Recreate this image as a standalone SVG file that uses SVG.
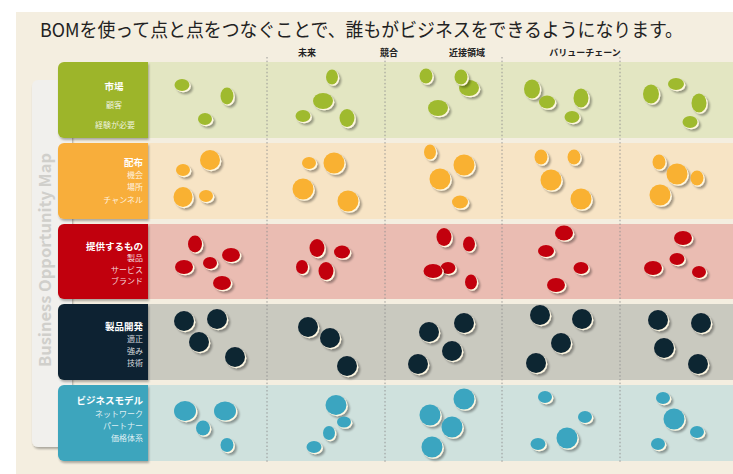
<svg xmlns="http://www.w3.org/2000/svg" width="733" height="474" viewBox="0 0 733 474">
<defs>
<filter id="sh" x="-50%" y="-50%" width="200%" height="200%">
<feGaussianBlur in="SourceAlpha" stdDeviation="1.1"/>
<feOffset dx="1.5" dy="1.8" result="b"/>
<feComponentTransfer><feFuncA type="linear" slope="0.35"/></feComponentTransfer>
<feMerge><feMergeNode/><feMergeNode in="SourceGraphic"/></feMerge>
</filter>
<filter id="bs" x="-20%" y="-20%" width="140%" height="140%">
<feGaussianBlur in="SourceAlpha" stdDeviation="1.2"/>
<feOffset dx="0.5" dy="1.5"/>
<feComponentTransfer><feFuncA type="linear" slope="0.3"/></feComponentTransfer>
<feMerge><feMergeNode/><feMergeNode in="SourceGraphic"/></feMerge>
</filter>
</defs>
<style>
text{font-family:"Noto Sans CJK JP","Liberation Sans",sans-serif}
.ttl{font-size:19px;fill:#222}
.hd{font-size:9px;font-weight:bold;fill:#222;text-anchor:middle}
.lb{font-size:9.5px;font-weight:bold;fill:#fff;text-anchor:end}
.sm{font-size:8px;fill:#fff;fill-opacity:0.85;text-anchor:end}
.dash{stroke:#8f8f8f;stroke-width:0.9;stroke-dasharray:1.5 2.2;fill:none}
.d{filter:url(#sh)}
.rim{fill:#fff8e2}
.g{fill:#9fba2e}
.o{fill:#f9b130}
.r{fill:#c2000b}
.k{fill:#0f2532}
.t{fill:#3aa5c0}
</style>
<rect x="0" y="0" width="733" height="474" fill="#ffffff"/>
<rect x="16" y="12" width="717" height="462" fill="#f4eee0"/>
<text class="ttl" x="40" y="37" textLength="643" lengthAdjust="spacingAndGlyphs">BOMを使って点と点をつなぐことで、誰もがビジネスをできるようになります。</text>
<g id="headers">
<text class="hd" x="307" y="56">未来</text>
<text class="hd" x="389" y="56">競合</text>
<text class="hd" x="467" y="56">近接領域</text>
<text class="hd" x="585" y="56">バリューチェーン</text>
</g>
<g id="panel">
<rect x="32" y="80" width="40" height="367" rx="6" fill="#f1f0ed" filter="url(#bs)"/>
<text x="0" y="0" transform="translate(51,260) rotate(-90)" text-anchor="middle" font-family="Open Sans, Liberation Sans, sans-serif" font-weight="600" font-size="16" fill="#d0cfcb" textLength="214" lengthAdjust="spacingAndGlyphs">Business Opportunity Map</text>
</g>
<g id="bands">
<rect x="147" y="62" width="586" height="76" fill="#e3e6c2"/>
<rect x="147" y="143" width="586" height="76" fill="#f7e4c5"/>
<rect x="147" y="224" width="586" height="75" fill="#eabcb2"/>
<rect x="147" y="304" width="586" height="76" fill="#c9c9bf"/>
<rect x="147" y="385" width="586" height="76" fill="#cfe1dd"/>
</g>
<g id="connectors">
<line class="dash" x1="267" y1="57" x2="267" y2="462"/>
<line class="dash" x1="385" y1="57" x2="385" y2="462"/>
<line class="dash" x1="502" y1="57" x2="502" y2="462"/>
<line class="dash" x1="620" y1="57" x2="620" y2="462"/>
</g>
<g id="row-market">
<path d="M64,62H148V138H64A6,6 0 0 1 58,132V68A6,6 0 0 1 64,62Z" fill="#9db52b" filter="url(#bs)"/>
<text class="lb" x="114" y="90" style="text-anchor:middle">市場</text>
<text class="sm" x="114" y="108" style="text-anchor:middle">顧客</text>
<text class="sm" x="115" y="128" style="text-anchor:middle">経験が必要</text>
</g>
<g id="row-distribution">
<path d="M64,143H148V219H64A6,6 0 0 1 58,213V149A6,6 0 0 1 64,143Z" fill="#f8ae3b" filter="url(#bs)"/>
<text class="lb" x="143" y="166">配布</text>
<text class="sm" x="143" y="178">機会</text>
<text class="sm" x="143" y="190">場所</text>
<text class="sm" x="143" y="203">チャンネル</text>
</g>
<g id="row-offering">
<path d="M64,224H148V299H64A6,6 0 0 1 58,293V230A6,6 0 0 1 64,224Z" fill="#c1000b" filter="url(#bs)"/>
<text class="lb" x="143" y="250">提供するもの</text>
<text class="sm" x="143" y="261">製品</text>
<text class="sm" x="143" y="272.5">サービス</text>
<text class="sm" x="143" y="283.5">ブランド</text>
</g>
<g id="row-development">
<path d="M64,304H148V380H64A6,6 0 0 1 58,374V310A6,6 0 0 1 64,304Z" fill="#0e2430" filter="url(#bs)"/>
<text class="lb" x="143" y="330">製品開発</text>
<text class="sm" x="143" y="342">適正</text>
<text class="sm" x="143" y="354">強み</text>
<text class="sm" x="143" y="366">技術</text>
</g>
<g id="row-model">
<path d="M64,385H148V461H64A6,6 0 0 1 58,455V391A6,6 0 0 1 64,385Z" fill="#3ca5bd" filter="url(#bs)"/>
<text class="lb" x="143" y="404">ビジネスモデル</text>
<text class="sm" x="143" y="416.5">ネットワーク</text>
<text class="sm" x="143" y="429">パートナー</text>
<text class="sm" x="143" y="441">価格体系</text>
</g>
<g id="dots-market">
<g class="d"><ellipse class="rim" cx="183.3" cy="86.3" rx="7.5" ry="6"/><ellipse class="g" cx="182" cy="85" rx="7.5" ry="6"/></g>
<g class="d"><ellipse class="rim" cx="228.3" cy="97.3" rx="6.5" ry="8.5"/><ellipse class="g" cx="227" cy="96" rx="6.5" ry="8.5"/></g>
<g class="d"><ellipse class="rim" cx="206.3" cy="120.3" rx="7" ry="6"/><ellipse class="g" cx="205" cy="119" rx="7" ry="6"/></g>
<g class="d"><ellipse class="rim" cx="333.3" cy="78.3" rx="6" ry="7.5"/><ellipse class="g" cx="332" cy="77" rx="6" ry="7.5"/></g>
<g class="d"><ellipse class="rim" cx="324.3" cy="102.3" rx="10" ry="8"/><ellipse class="g" cx="323" cy="101" rx="10" ry="8"/></g>
<g class="d"><ellipse class="rim" cx="304.3" cy="117.3" rx="7.5" ry="6"/><ellipse class="g" cx="303" cy="116" rx="7.5" ry="6"/></g>
<g class="d"><ellipse class="rim" cx="348.3" cy="119.3" rx="7.5" ry="9"/><ellipse class="g" cx="347" cy="118" rx="7.5" ry="9"/></g>
<g class="d"><ellipse class="rim" cx="427.3" cy="77.3" rx="6.5" ry="7.5"/><ellipse class="g" cx="426" cy="76" rx="6.5" ry="7.5"/></g>
<g class="d"><ellipse class="rim" cx="470.3" cy="89.3" rx="10" ry="8"/><ellipse class="g" cx="469" cy="88" rx="10" ry="8"/></g>
<g class="d"><ellipse class="rim" cx="462.3" cy="78.3" rx="6.5" ry="7.5"/><ellipse class="g" cx="461" cy="77" rx="6.5" ry="7.5"/></g>
<g class="d"><ellipse class="rim" cx="439.3" cy="109.3" rx="10" ry="8"/><ellipse class="g" cx="438" cy="108" rx="10" ry="8"/></g>
<g class="d"><ellipse class="rim" cx="533.3" cy="90.3" rx="8" ry="9.5"/><ellipse class="g" cx="532" cy="89" rx="8" ry="9.5"/></g>
<g class="d"><ellipse class="rim" cx="548.3" cy="103.3" rx="8" ry="6.5"/><ellipse class="g" cx="547" cy="102" rx="8" ry="6.5"/></g>
<g class="d"><ellipse class="rim" cx="582.3" cy="99.3" rx="7.5" ry="9.5"/><ellipse class="g" cx="581" cy="98" rx="7.5" ry="9.5"/></g>
<g class="d"><ellipse class="rim" cx="573.3" cy="118.3" rx="7.5" ry="6"/><ellipse class="g" cx="572" cy="117" rx="7.5" ry="6"/></g>
<g class="d"><ellipse class="rim" cx="652.3" cy="95.3" rx="8" ry="9.5"/><ellipse class="g" cx="651" cy="94" rx="8" ry="9.5"/></g>
<g class="d"><ellipse class="rim" cx="677.3" cy="85.3" rx="8" ry="6"/><ellipse class="g" cx="676" cy="84" rx="8" ry="6"/></g>
<g class="d"><ellipse class="rim" cx="700.3" cy="104.3" rx="7.5" ry="9.5"/><ellipse class="g" cx="699" cy="103" rx="7.5" ry="9.5"/></g>
<g class="d"><ellipse class="rim" cx="691.3" cy="123.3" rx="7.5" ry="6"/><ellipse class="g" cx="690" cy="122" rx="7.5" ry="6"/></g>
</g>
<g id="dots-distribution">
<g class="d"><ellipse class="rim" cx="184.3" cy="171.3" rx="7" ry="6"/><ellipse class="o" cx="183" cy="170" rx="7" ry="6"/></g>
<g class="d"><ellipse class="rim" cx="211.3" cy="161.3" rx="10" ry="10"/><ellipse class="o" cx="210" cy="160" rx="10" ry="10"/></g>
<g class="d"><ellipse class="rim" cx="184.3" cy="198.3" rx="9.5" ry="10"/><ellipse class="o" cx="183" cy="197" rx="9.5" ry="10"/></g>
<g class="d"><ellipse class="rim" cx="207.3" cy="197.3" rx="7" ry="6"/><ellipse class="o" cx="206" cy="196" rx="7" ry="6"/></g>
<g class="d"><ellipse class="rim" cx="310.3" cy="164.3" rx="7" ry="6"/><ellipse class="o" cx="309" cy="163" rx="7" ry="6"/></g>
<g class="d"><ellipse class="rim" cx="335.3" cy="164.3" rx="10.5" ry="10.5"/><ellipse class="o" cx="334" cy="163" rx="10.5" ry="10.5"/></g>
<g class="d"><ellipse class="rim" cx="304.3" cy="190.3" rx="10.5" ry="10.5"/><ellipse class="o" cx="303" cy="189" rx="10.5" ry="10.5"/></g>
<g class="d"><ellipse class="rim" cx="349.3" cy="202.3" rx="10.5" ry="10.5"/><ellipse class="o" cx="348" cy="201" rx="10.5" ry="10.5"/></g>
<g class="d"><ellipse class="rim" cx="431.3" cy="153.3" rx="6" ry="7.5"/><ellipse class="o" cx="430" cy="152" rx="6" ry="7.5"/></g>
<g class="d"><ellipse class="rim" cx="465.3" cy="166.3" rx="10.5" ry="10.5"/><ellipse class="o" cx="464" cy="165" rx="10.5" ry="10.5"/></g>
<g class="d"><ellipse class="rim" cx="441.3" cy="180.3" rx="10.5" ry="10.5"/><ellipse class="o" cx="440" cy="179" rx="10.5" ry="10.5"/></g>
<g class="d"><ellipse class="rim" cx="461.3" cy="203.3" rx="8" ry="6.5"/><ellipse class="o" cx="460" cy="202" rx="8" ry="6.5"/></g>
<g class="d"><ellipse class="rim" cx="542.3" cy="158.3" rx="6.5" ry="7.5"/><ellipse class="o" cx="541" cy="157" rx="6.5" ry="7.5"/></g>
<g class="d"><ellipse class="rim" cx="575.3" cy="158.3" rx="6.5" ry="7.5"/><ellipse class="o" cx="574" cy="157" rx="6.5" ry="7.5"/></g>
<g class="d"><ellipse class="rim" cx="552.3" cy="181.3" rx="10.5" ry="10.5"/><ellipse class="o" cx="551" cy="180" rx="10.5" ry="10.5"/></g>
<g class="d"><ellipse class="rim" cx="582.3" cy="200.3" rx="10.5" ry="10.5"/><ellipse class="o" cx="581" cy="199" rx="10.5" ry="10.5"/></g>
<g class="d"><ellipse class="rim" cx="660.3" cy="163.3" rx="6.5" ry="7.5"/><ellipse class="o" cx="659" cy="162" rx="6.5" ry="7.5"/></g>
<g class="d"><ellipse class="rim" cx="678.3" cy="175.3" rx="10.5" ry="10.5"/><ellipse class="o" cx="677" cy="174" rx="10.5" ry="10.5"/></g>
<g class="d"><ellipse class="rim" cx="698.3" cy="179.3" rx="6.5" ry="7.5"/><ellipse class="o" cx="697" cy="178" rx="6.5" ry="7.5"/></g>
<g class="d"><ellipse class="rim" cx="661.3" cy="196.3" rx="10.5" ry="10.5"/><ellipse class="o" cx="660" cy="195" rx="10.5" ry="10.5"/></g>
</g>
<g id="dots-offering">
<g class="d"><ellipse class="rim" cx="196.3" cy="245.3" rx="7" ry="8.5"/><ellipse class="r" cx="195" cy="244" rx="7" ry="8.5"/></g>
<g class="d"><ellipse class="rim" cx="232.3" cy="256.3" rx="9" ry="7"/><ellipse class="r" cx="231" cy="255" rx="9" ry="7"/></g>
<g class="d"><ellipse class="rim" cx="185.3" cy="268.3" rx="9" ry="7"/><ellipse class="r" cx="184" cy="267" rx="9" ry="7"/></g>
<g class="d"><ellipse class="rim" cx="211.3" cy="264.3" rx="7" ry="6"/><ellipse class="r" cx="210" cy="263" rx="7" ry="6"/></g>
<g class="d"><ellipse class="rim" cx="223.3" cy="284.3" rx="9" ry="7"/><ellipse class="r" cx="222" cy="283" rx="9" ry="7"/></g>
<g class="d"><ellipse class="rim" cx="318.3" cy="249.3" rx="7.5" ry="9"/><ellipse class="r" cx="317" cy="248" rx="7.5" ry="9"/></g>
<g class="d"><ellipse class="rim" cx="343.3" cy="253.3" rx="8" ry="6.5"/><ellipse class="r" cx="342" cy="252" rx="8" ry="6.5"/></g>
<g class="d"><ellipse class="rim" cx="303.3" cy="268.3" rx="6" ry="7"/><ellipse class="r" cx="302" cy="267" rx="6" ry="7"/></g>
<g class="d"><ellipse class="rim" cx="327.3" cy="272.3" rx="7.5" ry="9"/><ellipse class="r" cx="326" cy="271" rx="7.5" ry="9"/></g>
<g class="d"><ellipse class="rim" cx="445.3" cy="238.3" rx="7.5" ry="9"/><ellipse class="r" cx="444" cy="237" rx="7.5" ry="9"/></g>
<g class="d"><ellipse class="rim" cx="470.3" cy="245.3" rx="6" ry="7.5"/><ellipse class="r" cx="469" cy="244" rx="6" ry="7.5"/></g>
<g class="d"><ellipse class="rim" cx="449.3" cy="269.3" rx="7.5" ry="6"/><ellipse class="r" cx="448" cy="268" rx="7.5" ry="6"/></g>
<g class="d"><ellipse class="rim" cx="434.3" cy="272.3" rx="9.5" ry="7"/><ellipse class="r" cx="433" cy="271" rx="9.5" ry="7"/></g>
<g class="d"><ellipse class="rim" cx="472.3" cy="283.3" rx="6" ry="7.5"/><ellipse class="r" cx="471" cy="282" rx="6" ry="7.5"/></g>
<g class="d"><ellipse class="rim" cx="565.3" cy="234.3" rx="9" ry="7.5"/><ellipse class="r" cx="564" cy="233" rx="9" ry="7.5"/></g>
<g class="d"><ellipse class="rim" cx="547.3" cy="252.3" rx="8" ry="6"/><ellipse class="r" cx="546" cy="251" rx="8" ry="6"/></g>
<g class="d"><ellipse class="rim" cx="582.3" cy="269.3" rx="7.5" ry="6"/><ellipse class="r" cx="581" cy="268" rx="7.5" ry="6"/></g>
<g class="d"><ellipse class="rim" cx="557.3" cy="286.3" rx="9" ry="7"/><ellipse class="r" cx="556" cy="285" rx="9" ry="7"/></g>
<g class="d"><ellipse class="rim" cx="684.3" cy="239.3" rx="9" ry="7"/><ellipse class="r" cx="683" cy="238" rx="9" ry="7"/></g>
<g class="d"><ellipse class="rim" cx="678.3" cy="260.3" rx="7.5" ry="6"/><ellipse class="r" cx="677" cy="259" rx="7.5" ry="6"/></g>
<g class="d"><ellipse class="rim" cx="654.3" cy="269.3" rx="9" ry="7"/><ellipse class="r" cx="653" cy="268" rx="9" ry="7"/></g>
<g class="d"><ellipse class="rim" cx="700.3" cy="273.3" rx="7" ry="6"/><ellipse class="r" cx="699" cy="272" rx="7" ry="6"/></g>
</g>
<g id="dots-development">
<g class="d"><circle class="rim" cx="185.3" cy="322.3" r="10"/><circle class="k" cx="184" cy="321" r="10"/></g>
<g class="d"><circle class="rim" cx="218.3" cy="320.3" r="10"/><circle class="k" cx="217" cy="319" r="10"/></g>
<g class="d"><circle class="rim" cx="200.3" cy="343.3" r="10"/><circle class="k" cx="199" cy="342" r="10"/></g>
<g class="d"><circle class="rim" cx="236.3" cy="358.3" r="10"/><circle class="k" cx="235" cy="357" r="10"/></g>
<g class="d"><circle class="rim" cx="309.3" cy="328.3" r="10"/><circle class="k" cx="308" cy="327" r="10"/></g>
<g class="d"><circle class="rim" cx="331.3" cy="339.3" r="10"/><circle class="k" cx="330" cy="338" r="10"/></g>
<g class="d"><circle class="rim" cx="348.3" cy="367.3" r="10"/><circle class="k" cx="347" cy="366" r="10"/></g>
<g class="d"><circle class="rim" cx="465.3" cy="324.3" r="10"/><circle class="k" cx="464" cy="323" r="10"/></g>
<g class="d"><circle class="rim" cx="430.3" cy="333.3" r="10"/><circle class="k" cx="429" cy="332" r="10"/></g>
<g class="d"><circle class="rim" cx="453.3" cy="352.3" r="10"/><circle class="k" cx="452" cy="351" r="10"/></g>
<g class="d"><circle class="rim" cx="419.3" cy="365.3" r="10"/><circle class="k" cx="418" cy="364" r="10"/></g>
<g class="d"><circle class="rim" cx="541.3" cy="316.3" r="10"/><circle class="k" cx="540" cy="315" r="10"/></g>
<g class="d"><circle class="rim" cx="583.3" cy="320.3" r="10"/><circle class="k" cx="582" cy="319" r="10"/></g>
<g class="d"><circle class="rim" cx="562.3" cy="344.3" r="10"/><circle class="k" cx="561" cy="343" r="10"/></g>
<g class="d"><circle class="rim" cx="537.3" cy="364.3" r="10"/><circle class="k" cx="536" cy="363" r="10"/></g>
<g class="d"><circle class="rim" cx="659.3" cy="321.3" r="10"/><circle class="k" cx="658" cy="320" r="10"/></g>
<g class="d"><circle class="rim" cx="702.3" cy="324.3" r="10"/><circle class="k" cx="701" cy="323" r="10"/></g>
<g class="d"><circle class="rim" cx="665.3" cy="349.3" r="10"/><circle class="k" cx="664" cy="348" r="10"/></g>
<g class="d"><circle class="rim" cx="699.3" cy="365.3" r="10"/><circle class="k" cx="698" cy="364" r="10"/></g>
</g>
<g id="dots-model">
<g class="d"><ellipse class="rim" cx="186.3" cy="412.3" rx="11" ry="10"/><ellipse class="t" cx="185" cy="411" rx="11" ry="10"/></g>
<g class="d"><ellipse class="rim" cx="226.3" cy="412.3" rx="11" ry="9.5"/><ellipse class="t" cx="225" cy="411" rx="11" ry="9.5"/></g>
<g class="d"><ellipse class="rim" cx="204.3" cy="429.3" rx="7" ry="7.5"/><ellipse class="t" cx="203" cy="428" rx="7" ry="7.5"/></g>
<g class="d"><ellipse class="rim" cx="228.3" cy="446.3" rx="6.5" ry="7"/><ellipse class="t" cx="227" cy="445" rx="6.5" ry="7"/></g>
<g class="d"><ellipse class="rim" cx="337.3" cy="406.3" rx="10.5" ry="10"/><ellipse class="t" cx="336" cy="405" rx="10.5" ry="10"/></g>
<g class="d"><ellipse class="rim" cx="345.3" cy="423.3" rx="7" ry="5.5"/><ellipse class="t" cx="344" cy="422" rx="7" ry="5.5"/></g>
<g class="d"><ellipse class="rim" cx="330.3" cy="434.3" rx="6" ry="7"/><ellipse class="t" cx="329" cy="433" rx="6" ry="7"/></g>
<g class="d"><ellipse class="rim" cx="315.3" cy="448.3" rx="7.5" ry="6"/><ellipse class="t" cx="314" cy="447" rx="7.5" ry="6"/></g>
<g class="d"><ellipse class="rim" cx="465.3" cy="400.3" rx="10.5" ry="10.5"/><ellipse class="t" cx="464" cy="399" rx="10.5" ry="10.5"/></g>
<g class="d"><ellipse class="rim" cx="431.3" cy="416.3" rx="10.5" ry="10.5"/><ellipse class="t" cx="430" cy="415" rx="10.5" ry="10.5"/></g>
<g class="d"><ellipse class="rim" cx="453.3" cy="428.3" rx="10.5" ry="10.5"/><ellipse class="t" cx="452" cy="427" rx="10.5" ry="10.5"/></g>
<g class="d"><ellipse class="rim" cx="433.3" cy="448.3" rx="10.5" ry="10.5"/><ellipse class="t" cx="432" cy="447" rx="10.5" ry="10.5"/></g>
<g class="d"><ellipse class="rim" cx="546.3" cy="398.3" rx="7" ry="6"/><ellipse class="t" cx="545" cy="397" rx="7" ry="6"/></g>
<g class="d"><ellipse class="rim" cx="586.3" cy="418.3" rx="7" ry="6"/><ellipse class="t" cx="585" cy="417" rx="7" ry="6"/></g>
<g class="d"><ellipse class="rim" cx="568.3" cy="439.3" rx="10.5" ry="10.5"/><ellipse class="t" cx="567" cy="438" rx="10.5" ry="10.5"/></g>
<g class="d"><ellipse class="rim" cx="539.3" cy="445.3" rx="7.5" ry="6"/><ellipse class="t" cx="538" cy="444" rx="7.5" ry="6"/></g>
<g class="d"><ellipse class="rim" cx="664.3" cy="399.3" rx="7" ry="6"/><ellipse class="t" cx="663" cy="398" rx="7" ry="6"/></g>
<g class="d"><ellipse class="rim" cx="675.3" cy="420.3" rx="10.5" ry="10.5"/><ellipse class="t" cx="674" cy="419" rx="10.5" ry="10.5"/></g>
<g class="d"><ellipse class="rim" cx="698.3" cy="433.3" rx="7" ry="6"/><ellipse class="t" cx="697" cy="432" rx="7" ry="6"/></g>
<g class="d"><ellipse class="rim" cx="659.3" cy="445.3" rx="7" ry="6"/><ellipse class="t" cx="658" cy="444" rx="7" ry="6"/></g>
</g>
</svg>
